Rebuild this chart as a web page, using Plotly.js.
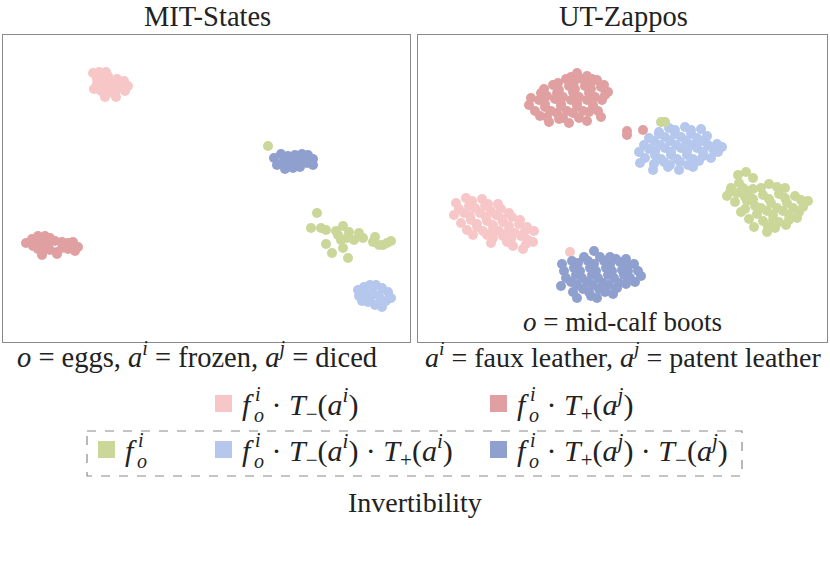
<!DOCTYPE html>
<html>
<head>
<meta charset="utf-8">
<script src="https://cdn.plot.ly/plotly-3.0.1.min.js"></script>
<style>html,body{margin:0;padding:0;background:#fff}#chart{width:830px;height:562px}</style>
</head>
<body>
<div id="chart"></div>
<script>
// ---- data: embedding coordinates (arbitrary t-SNE units) ----
const seriesNames = ["f·T−(ai)", "f·T+(aj)", "f", "f·T−(ai)·T+(ai)", "f·T+(aj)·T−(aj)"];
const seriesColors = ["#F7C6C7", "#E0A0A1", "#CBD699", "#B5C7EC", "#8FA0CF"];

// MIT-States
const mitPink = [[93,73],[99,72],[106,72],[108,76],[97,79],[103,80],[110,80],[117,79],[124,81],[128,86],[125,91],[119,88],[113,86],[106,86],[100,85],[94,89],[101,91],[108,93],[115,94],[105,97],[116,97],[121,84],[97,84]];
const mitRed = [[26,243],[32,239],[38,236],[45,236],[50,238],[55,241],[62,242],[68,243],[73,242],[78,247],[75,251],[68,249],[62,248],[57,252],[50,250],[44,250],[38,249],[33,246],[42,255],[57,254],[48,244],[40,243],[66,246]];
const mitGreen = [[268,146],[317,213],[311,228],[321,228],[326,230],[343,226],[338,235],[349,232],[347,238],[341,240],[343,248],[326,244],[332,253],[348,258],[359,233],[363,238],[375,237],[373,242],[379,245],[383,245],[387,243],[391,241],[336,231],[354,240]];
const mitLightBlue = [[358,290],[364,287],[370,285],[376,285],[382,288],[388,292],[391,298],[386,301],[381,303],[382,307],[375,305],[368,302],[362,301],[359,296],[366,294],[373,293],[379,296],[370,298]];
const mitDarkBlue = [[274,158],[281,154],[288,156],[295,155],[302,154],[308,155],[313,159],[313,165],[307,163],[300,167],[293,168],[285,169],[277,165],[283,162],[290,162],[297,161],[304,160],[287,159]];

// UT-Zappos
const utPink = [[456,203],[466,198],[472,201],[482,199],[488,204],[498,204],
  [459,209],[469,206],[475,208],[485,206],[491,211],[501,209],[509,213],
  [454,215],[464,213],[470,216],[480,213],[486,217],[496,215],[502,219],[512,217],[520,220],
  [461,223],[471,220],[477,224],[487,221],[493,225],[503,222],[509,226],[519,224],[527,227],
  [467,230],[477,227],[483,231],[493,229],[499,231],[509,230],[515,233],[525,231],[534,231],
  [473,235],[487,235],[493,238],[503,236],[511,239],[521,236],[528,240],
  [491,243],[507,242],[513,246],[526,244],[533,242],[523,249],[570,252]];
const utRed = [[571,77],[577,73],[587,76],[592,79],
  [558,83],[566,79],[574,82],[582,79],[591,83],[597,80],[604,85],
  [544,89],[553,85],[559,90],[569,86],[575,89],[585,86],[591,89],[601,87],[608,92],
  [531,98],[541,93],[547,96],[557,93],[563,97],[573,92],[579,97],[589,93],[595,97],[605,95],
  [529,105],[539,100],[545,104],[555,99],[561,104],[571,100],[577,103],[587,100],[593,105],[602,100],
  [535,111],[545,107],[551,111],[561,106],[567,111],[577,106],[583,111],[593,108],
  [547,117],[557,113],[563,118],[573,113],[579,118],[589,112],
  [549,122],[559,119],[569,123],[587,121],[601,117],[540,116],[598,111],
  [627,131],[627,135],[643,130]];
const utGreen = [[661,122],[665,122],
  [738,175],[746,172],[753,178],[739,183],[731,188],[743,188],[727,196],[737,193],[745,197],[753,189],[761,188],[769,184],[777,187],[785,188],
  [735,202],[747,201],[753,199],[763,195],[769,199],[779,194],[785,198],[795,196],[801,200],[808,201],
  [745,209],[755,206],[761,208],[771,203],[777,208],[787,203],[793,208],[803,207],
  [741,212],[757,214],[767,211],[773,215],[783,211],[789,215],[799,212],
  [749,219],[763,221],[773,220],[779,222],[789,220],[797,218],
  [754,227],[768,227],[775,228],[786,225],[767,232],[748,191],[730,192]];
const utLightBlue = [[659,132],[669,128],[675,130],[685,127],[691,130],[701,129],
  [649,138],[659,134],[665,137],[675,134],[681,137],[691,134],[697,138],[707,136],
  [644,145],[654,141],[660,145],[670,141],[676,145],[686,141],[692,145],[702,141],[708,145],[717,144],
  [639,152],[649,149],[655,151],[665,148],[671,152],[681,148],[687,151],[697,148],[703,152],[713,149],[722,147],
  [645,158],[655,155],[661,159],[671,155],[677,159],[687,155],[693,159],[703,156],[711,158],
  [640,163],[654,164],[664,162],[670,165],[680,162],[688,165],[699,161],
  [653,170],[668,167],[679,170],[693,167],[718,152]];
const utDarkBlue = [[584,257],[594,251],[600,257],[610,257],[616,259],[626,259],
  [562,264],[572,261],[578,263],[588,261],[594,264],[604,261],[610,265],[620,262],[626,265],[634,264],
  [564,271],[574,268],[580,271],[590,268],[596,271],[606,268],[612,271],[622,270],[628,271],[638,271],
  [566,278],[576,275],[582,278],[592,275],[598,278],[608,275],[614,278],[624,275],[630,278],[641,276],
  [561,286],[571,282],[577,285],[587,282],[593,285],[603,283],[609,285],[619,283],[626,284],
  [573,292],[583,289],[589,292],[599,289],[605,292],[617,288],
  [577,298],[591,296],[597,298],[613,294],[635,282]];

const panelTitles = ["MIT-States", "UT-Zappos"];

// ---- build traces ----
const W = 830, H = 562;
const FONT = "Liberation Serif";
const TXT = "#222";
function tr(pts, ci, ax) {
  return {type:"scatter", mode:"markers", x:pts.map(p=>p[0]), y:pts.map(p=>p[1]),
    xaxis: ax==1?"x":"x2", yaxis: ax==1?"y":"y2", hoverinfo:"skip", showlegend:false,
    marker:{size:10, color:seriesColors[ci], line:{width:0}}};
}
const traces = [
  tr(mitPink,0,1), tr(mitRed,1,1), tr(mitGreen,2,1), tr(mitLightBlue,3,1), tr(mitDarkBlue,4,1),
  tr(utPink,0,2), tr(utRed,1,2), tr(utLightBlue,3,2), tr(utDarkBlue,4,2), tr(utGreen,2,2)
];

const px = v => v / W, py = v => 1 - v / H;
const axBase = {showgrid:false, zeroline:false, showticklabels:false, ticks:"",
  showline:true, mirror:true, linecolor:"#8a8a8a", linewidth:1.2, fixedrange:true};

const ann = [];
function A(x, y, text, size, xanchor) {
  ann.push({xref:"paper", yref:"paper", x:px(x), y:py(y), text:text, showarrow:false,
    xanchor:xanchor||"center", yanchor:"middle", font:{family:FONT, size:size, color:TXT}});
}
A(207, 17, panelTitles[0], 28.5);
A(623, 17, panelTitles[1], 28.5);
A(622, 322, "<i>o</i> = mid-calf boots", 27);
A(197, 355, "<i>o</i> = eggs, <i>a</i><sup><i>i</i></sup> = frozen, <i>a</i><sup><i>j</i></sup> = diced", 28.5);
A(623, 355, "<i>a</i><sup><i>i</i></sup> = faux leather, <i>a</i><sup><i>j</i></sup> = patent leather", 28);
A(415, 502, "Invertibility", 28);

// legend items built from series names/colours
const legendItems = [
  {ci:0, sx:215, sy:395, rest:" · <i>T</i><sub>−</sub>(<i>a</i><sup><i>i</i></sup>)"},
  {ci:1, sx:490, sy:395, rest:" · <i>T</i><sub>+</sub>(<i>a</i><sup><i>j</i></sup>)"},
  {ci:2, sx:98,  sy:441, rest:""},
  {ci:3, sx:215, sy:441, rest:" · <i>T</i><sub>−</sub>(<i>a</i><sup><i>i</i></sup>) · <i>T</i><sub>+</sub>(<i>a</i><sup><i>i</i></sup>)"},
  {ci:4, sx:490, sy:441, rest:" · <i>T</i><sub>+</sub>(<i>a</i><sup><i>j</i></sup>) · <i>T</i><sub>−</sub>(<i>a</i><sup><i>j</i></sup>)"}
];
const shapes = [];
legendItems.forEach(it => {
  shapes.push({type:"rect", xref:"paper", yref:"paper", x0:px(it.sx), x1:px(it.sx+17), y0:py(it.sy), y1:py(it.sy+17),
    fillcolor:seriesColors[it.ci], line:{width:0}});
  const cy = it.sy + 9, fx = it.sx + 25;
  A(fx, cy, "<i>f</i>", 30, "left");
  A(fx + 13, cy - 10, "<i>i</i>", 20, "left");
  A(fx + 12, cy + 11, "<i>o</i>", 20, "left");
  if (it.rest) A(fx + 22, cy, it.rest, 30, "left");
});
shapes.push({type:"rect", xref:"paper", yref:"paper", x0:px(87), x1:px(742), y0:py(431), y1:py(476),
  line:{color:"#8a8a8a", width:1.2, dash:"dash"}, fillcolor:"rgba(0,0,0,0)"});

const layout = {
  width:W, height:H, margin:{l:0, r:0, t:0, b:0}, paper_bgcolor:"#fff", plot_bgcolor:"#fff",
  showlegend:false,
  xaxis: Object.assign({}, axBase, {domain:[px(3), px(410)], range:[3,410]}),
  yaxis: Object.assign({}, axBase, {domain:[py(342), py(35)], range:[342,35]}),
  xaxis2: Object.assign({}, axBase, {domain:[px(418), px(827)], range:[418,827], anchor:"y2"}),
  yaxis2: Object.assign({}, axBase, {domain:[py(342), py(35)], range:[342,35], anchor:"x2"}),
  annotations: ann, shapes: shapes
};
Plotly.newPlot("chart", traces, layout, {displayModeBar:false, staticPlot:true});
</script>
</body>
</html>
